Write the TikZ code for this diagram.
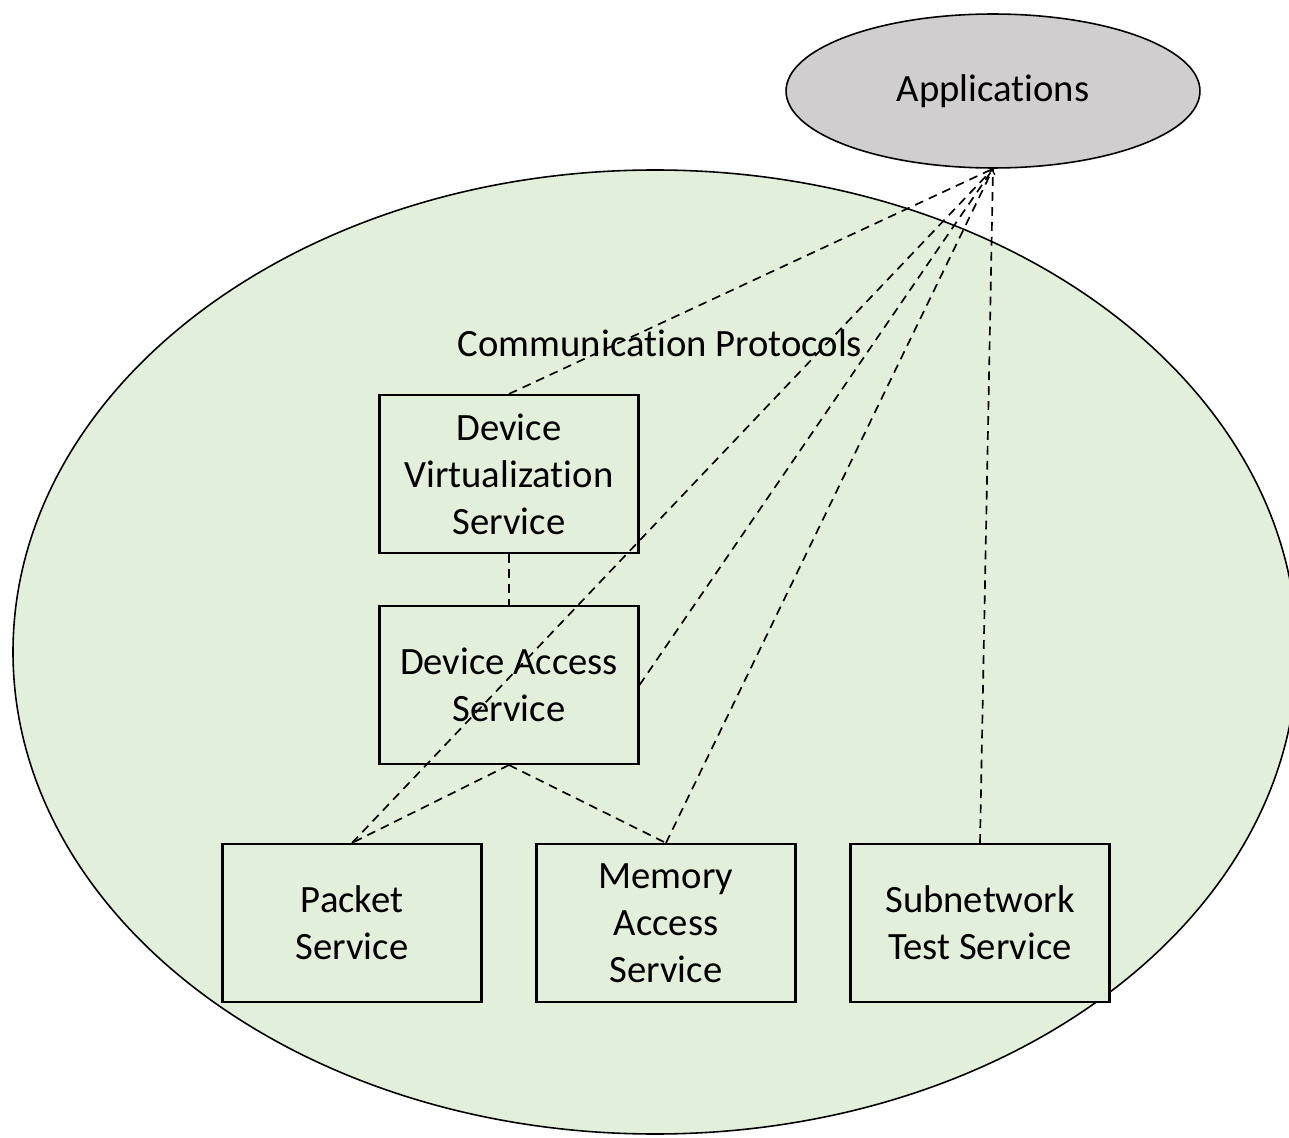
\documentclass[tikz,border=0pt]{standalone}
\usepackage{fontspec}
\setmainfont{Carlito}[Ligatures=NoCommon]
\usepackage{color}
\definecolor{mygreen}{RGB}{226,239,218}
\definecolor{mygray}{RGB}{208,206,206}
\usepackage{tikz}
\usetikzlibrary{calc,arrows,positioning,shapes.geometric}
\tikzstyle{service}=[draw,line width=1.2pt,fill=mygreen,minimum width=5.18cm,minimum height=3.16cm,inner sep=0pt,align=center,font=\fontsize{22}{26.7}\selectfont]
\tikzstyle{link}=[line width=0.95pt,dash pattern=on 5pt off 3.5pt]

\begin{document}
\begin{tikzpicture}[x=0.02cm,y=-0.02cm]
\useasboundingbox (0,0) rectangle (1289,1138);
% outer region
\draw [fill=mygreen,line width=0.9pt] (655,652) ellipse [x radius=642*0.02cm,y radius=482*0.02cm];
\node [draw,ellipse,fill=mygray,line width=0.9pt,minimum width=8.28cm,minimum height=3.08cm,font=\fontsize{22}{26.7}\selectfont] (app) at (993,91) {Applications};
\node [font=\fontsize{22}{26.7}\selectfont] (cp) at (660,343) {Communication Protocols};

\node [service] (dvs) at (509,474) {Device\\Virtualization\\Service};
\node [service] (das) at (509,685) {Device Access\\Service};
\node [service] (ps) at (352,923) {Packet\\Service};
\node [service] (mas) at (666,923) {Memory\\Access\\Service};
\node [service] (sts) at (980,923) {Subnetwork\\Test Service};

% links
\draw [link] (dvs.north) -- (app.south);
\draw [link] (ps.north) -- (app.south);
\draw [link] (das.east) -- (app.south);
\draw [link,->] (mas.north) -- (app.south);
\draw [link] (sts.north) -- (app.south);
\draw [link] (dvs.south) -- (das.north);
\draw [link] (das.south) -- (ps.north);
\draw [link] (das.south) -- (mas.north);
\end{tikzpicture}
\end{document}
